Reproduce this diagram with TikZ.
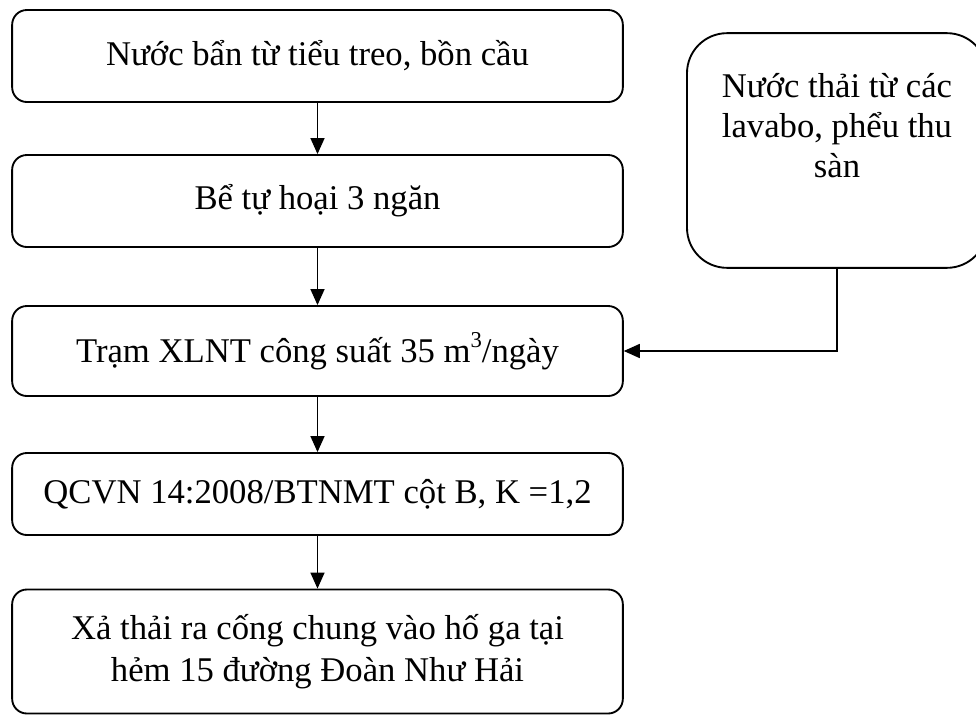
\documentclass[tikz,border=0pt]{standalone}
\usepackage{fontspec}
\setmainfont{Liberation Serif}
\usetikzlibrary{positioning,arrows.meta}

\newcommand{\supthree}{\raisebox{0.42em}{\fontsize{17}{17}\selectfont 3}}

\begin{document}
\begin{tikzpicture}[x=0.75pt, y=-0.75pt,
  font=\fontsize{26}{31.5}\selectfont,
  box/.style={draw=black, line width=1.4pt, rounded corners=11pt, fill=white,
              align=center, inner sep=0pt, minimum width=458pt},
  src/.style={draw=black, line width=1.4pt, rounded corners=30pt, fill=white,
              minimum width=225pt, minimum height=176pt},
  arr/.style={-{Triangle[length=12pt,width=10.5pt]}, draw=black, line width=1.1pt},
]
\useasboundingbox[fill=white] (0,0) rectangle (976,715);
\node[box, minimum height=69pt] (toilet) at (317.5, 56)
  {Nước bẩn từ tiểu treo, bồn cầu};
\node[box, minimum height=69pt] (septic) at (317.5, 201)
  {Bể tự hoại 3 ngăn};
\node[box, minimum height=67.5pt] (plant) at (317.5, 351)
  {Trạm XLNT công suất 35 m\supthree/ngày};
\node[box, minimum height=93pt] (outlet) at (317.5, 651.5)
  {Xả thải ra cống chung vào hố ga tại\\ hẻm 15 đường Đoàn Như Hải};
\node[box, minimum height=61.5pt] (qcvn) at (317.5, 494)
  {QCVN 14:2008/BTNMT cột B, K =1,2};
\node[src] (basin) at (837, 150.5) {};
\node[align=center, anchor=north, inner sep=0pt, font=\fontsize{26}{30}\selectfont]
  (basintxt) at (837, 73) {Nước thải từ các\\ lavabo, phểu thu\\ sàn};
\draw[arr] (toilet) -- (septic);
\draw[arr] (septic) -- (plant);
\draw[arr] (plant) -- (qcvn);
\draw[arr] (qcvn) -- (outlet);
\draw[arr] (basin.south) |- (plant.east);
\end{tikzpicture}
\end{document}
